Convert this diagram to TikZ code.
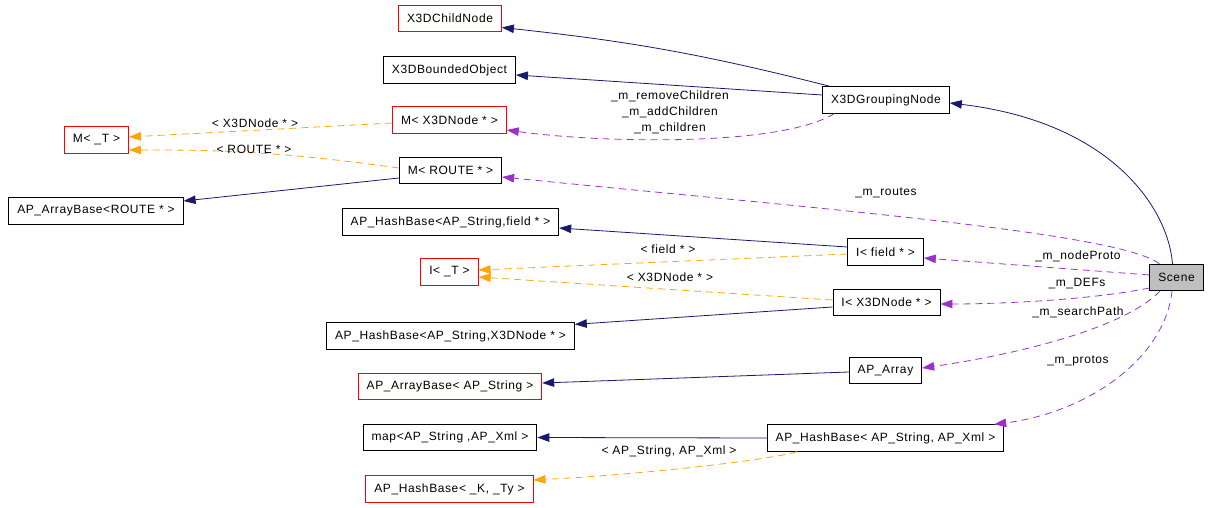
\documentclass[tikz,border=0pt]{standalone}
\usepackage{fontspec}
\setmainfont{Liberation Sans}[LetterSpace=5]
\usetikzlibrary{arrows.meta}
\definecolor{navy}{RGB}{25,25,112}
\definecolor{orchid}{RGB}{153,50,204}
\definecolor{amber}{RGB}{255,165,0}
\begin{document}
\begin{tikzpicture}[x=1pt,y=1pt,font=\fontsize{12}{16}\selectfont,
  cls/.style={draw,line width=0.8pt,inner xsep=8.5pt,inner ysep=0pt,minimum height=26.5pt},
  undoc/.style={cls,draw=red},
  tip/.style={-{Triangle[length=12pt,width=8.5pt]}},
  inh/.style={navy,line width=0.8pt,tip},
  use/.style={orchid,line width=0.8pt,dash pattern=on 7pt off 5pt,tip},
  tmpl/.style={amber,line width=0.8pt,dash pattern=on 7pt off 5pt,tip},
  lbl/.style={inner sep=0pt,align=center}]
\useasboundingbox (0,0) rectangle (1211,507);
\node[undoc] (child) at (450,488.5) {X3DChildNode};
\node[cls] (bounded) at (449.5,437) {X3DBoundedObject};
\node[undoc] (mnode) at (449.5,387) {M< X3DNode * >};
\node[undoc] (mtmpl) at (96.5,367) {M< \_T >};
\node[cls] (mroute) at (450.5,336.5) {M< ROUTE * >};
\node[cls] (abroute) at (96,296) {AP\_ArrayBase<ROUTE * >};
\node[cls] (hfield) at (450.5,285) {AP\_HashBase<AP\_String,field * >};
\node[undoc] (itmpl) at (449.5,235) {I< \_T >};
\node[cls] (hnode) at (450.5,171) {AP\_HashBase<AP\_String,X3DNode * >};
\node[undoc] (abstr) at (450,120.5) {AP\_ArrayBase< AP\_String >};
\node[cls] (mapxml) at (450,69.5) {map<AP\_String ,AP\_Xml >};
\node[undoc] (hkty) at (449.5,18) {AP\_HashBase< \_K, \_Ty >};
\node[cls] (group) at (886,407) {X3DGroupingNode};
\node[cls] (ifield) at (885.5,255) {I< field * >};
\node[cls] (inode) at (886.5,204.5) {I< X3DNode * >};
\node[cls] (array) at (885.5,136.5) {AP\_Array};
\node[cls] (hxml) at (885.5,69) {AP\_HashBase< AP\_String, AP\_Xml >};
\node[cls,fill=gray!50] (scene) at (1176.5,229.5) {Scene};

\draw[inh] ([xshift=-4pt]scene.north) .. controls (1168,300) and (1110,385) .. ([yshift=-3pt]group.east);
\draw[inh] ([xshift=8pt]group.north west) to[bend right=4] ([yshift=-9pt]child.east);
\draw[inh] ([yshift=5pt]group.west) -- ([yshift=-5pt]bounded.east);
\draw[use] ([xshift=12pt]group.south west) .. controls (780,360) and (600,364) .. ([yshift=-10pt]mnode.east);
\draw[tmpl] ([yshift=-3pt]mnode.west) -- ([yshift=3pt]mtmpl.east);
\draw[tmpl] ([yshift=2.5pt]mroute.west) to[bend right=4] ([yshift=-10pt]mtmpl.east);
\draw[inh] ([yshift=-7.5pt]mroute.west) -- ([yshift=10pt]abroute.east);
\draw[use] ([xshift=10pt]scene.north west) .. controls (1120,275) and (800,300) .. ([yshift=-6.5pt]mroute.east);
\draw[inh] ([yshift=5pt]ifield.west) -- ([yshift=-6pt]hfield.east);
\draw[tmpl] ([yshift=-2pt]ifield.west) -- ([yshift=2pt]itmpl.east);
\draw[use] ([yshift=2.5pt]scene.west) -- ([yshift=-6pt]ifield.east);
\draw[tmpl] ([yshift=2.5pt]inode.west) -- ([yshift=-5pt]itmpl.east);
\draw[inh] ([yshift=-4.5pt]inode.west) -- ([yshift=-2pt]hnode.north east);
\draw[use] ([yshift=-10.5pt]scene.west) .. controls (1090,207) and (1000,203) .. ([yshift=-1.5pt]inode.east);
\draw[use] ([xshift=-16.5pt]scene.south) .. controls (1120,175) and (1000,150) .. ([yshift=2.5pt]array.east);
\draw[inh] ([yshift=-1.5pt]array.west) -- ([yshift=3.5pt]abstr.east);
\draw[use] ([xshift=-4.5pt]scene.south) .. controls (1165,150) and (1090,95) .. ([xshift=-10pt]hxml.north east);
\draw[inh] (hxml.west) -- (mapxml.east);
\draw[tmpl] ([xshift=30pt]hxml.south west) .. controls (775,48) and (650,33) .. ([yshift=9pt]hkty.east);

\node[lbl] (lchild) at (670,395) {\_m\_removeChildren\\\_m\_addChildren\\\_m\_children};
\node[lbl] (lmnode) at (255,384) {< X3DNode * >};
\node[lbl] (lmroute) at (254,358) {< ROUTE * >};
\node[lbl] (lroutes) at (886,314) {\_m\_routes};
\node[lbl] (lfield) at (668,258) {< field * >};
\node[lbl] (linode) at (670,230) {< X3DNode * >};
\node[lbl] (lproto) at (1078,251) {\_m\_nodeProto};
\node[lbl] (ldefs) at (1077,223) {\_m\_DEFs};
\node[lbl] (lpath) at (1078,195) {\_m\_searchPath};
\node[lbl] (lprotos) at (1078,146) {\_m\_protos};
\node[lbl] (lxml) at (669,56) {< AP\_String, AP\_Xml >};
\end{tikzpicture}
\end{document}
